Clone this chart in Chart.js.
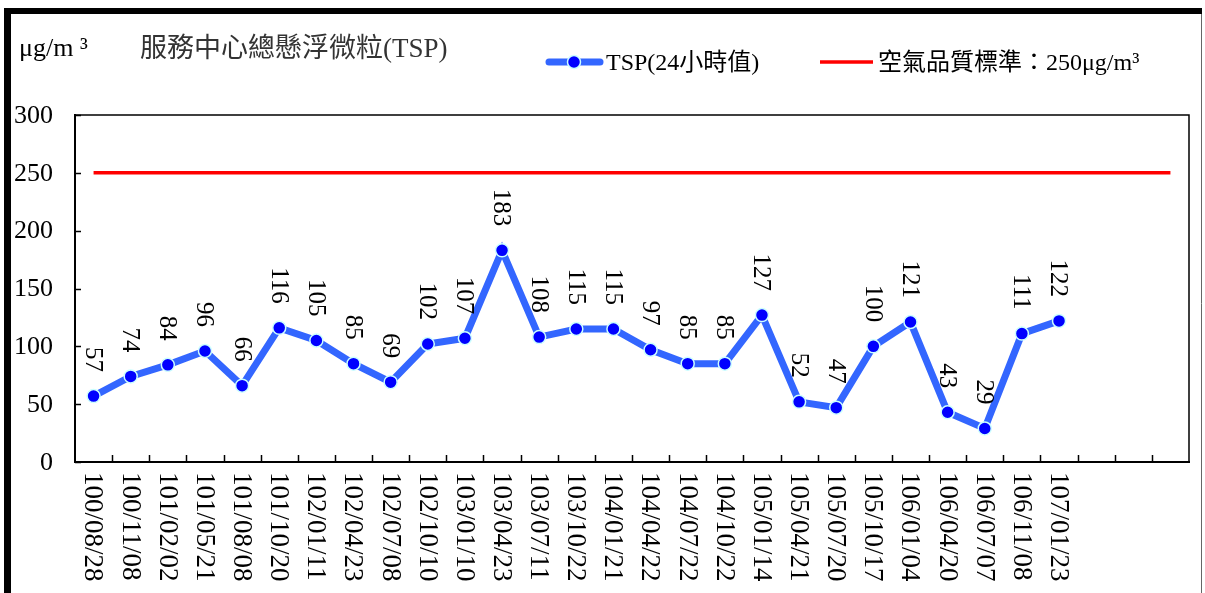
<!DOCTYPE html>
<html><head><meta charset="utf-8">
<script src="https://cdn.jsdelivr.net/npm/chart.js@4/dist/chart.umd.min.js"></script>
<style>html,body{margin:0;padding:0;background:#fff;overflow:hidden}canvas{display:block}</style>
</head><body><canvas id="c" width="1205" height="593"></canvas>
<script>
const sampleDates = ['100/08/28','100/11/08','101/02/02','101/05/21','101/08/08','101/10/20','102/01/11','102/04/23','102/07/08','102/10/10','103/01/10','103/04/23','103/07/11','103/10/22','104/01/21','104/04/22','104/07/22','104/10/22','105/01/14','105/04/21','105/07/20','105/10/17','106/01/04','106/04/20','106/07/07','106/11/08','107/01/23'];
const emptySlots = ['', '', ''];
const tspValues = [57,74,84,96,66,116,105,85,69,102,107,183,108,115,115,97,85,85,127,52,47,100,121,43,29,111,122];
const standardValue = 250;
const yTickValues = [0, 50, 100, 150, 200, 250, 300];
const seriesName = 'TSP(24小時值)';
const standardName = '空氣品質標準：250μg/m³';
const unitText = 'μg/m ³';
const titleText = '服務中心總懸浮微粒(TSP)';

const categories = sampleDates.concat(emptySlots);
const standardLine = categories.map(() => standardValue);

const SERIF = '"Liberation Serif", "Times New Roman", "Noto Sans CJK TC", serif';
const BLUE_LINE = '#3366ff';
const BLUE_DOT = '#0000ff';
const RED = '#ff0000';

const decor = {
  id: 'decor',
  afterDatasetsDraw(chart) {
    const ctx = chart.ctx;
    const meta = chart.getDatasetMeta(0);
    ctx.save();
    ctx.fillStyle = '#000';
    ctx.font = '25px ' + SERIF;
    ctx.textAlign = 'right';
    ctx.textBaseline = 'middle';
    meta.data.forEach((pt, i) => {
      ctx.save();
      ctx.translate(pt.x - 1, pt.y - 24);
      ctx.rotate(Math.PI / 2);
      ctx.fillText(String(tspValues[i]), 0, 0);
      ctx.restore();
    });
    ctx.restore();
  },
  afterDraw(chart) {
    const ctx = chart.ctx;
    const a = chart.chartArea;
    const x = chart.scales.x;
    const y = chart.scales.y;
    ctx.save();
    // plot area frame
    ctx.strokeStyle = '#000';
    ctx.lineWidth = 1.5;
    ctx.beginPath();
    ctx.moveTo(a.left, a.top); ctx.lineTo(a.right, a.top); ctx.lineTo(a.right, a.bottom);
    ctx.stroke();
    // x ticks (inward, at category boundaries)
    const step = x.getPixelForTick(1) - x.getPixelForTick(0);
    ctx.lineWidth = 1.5;
    ctx.beginPath();
    for (let i = 1; i < categories.length; i++) {
      const px = Math.round(x.getPixelForTick(i) - step / 2) + 0.5;
      ctx.moveTo(px, a.bottom); ctx.lineTo(px, a.bottom - 7);
    }
    // y ticks inward
    yTickValues.forEach(v => {
      const py = Math.round(y.getPixelForValue(v)) + 0.5;
      ctx.moveTo(a.left, py); ctx.lineTo(a.left + 6, py);
    });
    ctx.stroke();
    // y labels
    ctx.fillStyle = '#000';
    ctx.font = '26px ' + SERIF;
    ctx.textAlign = 'right';
    ctx.textBaseline = 'middle';
    yTickValues.forEach(v => {
      ctx.fillText(String(v), 53, y.getPixelForValue(v) + 1);
    });
    // x labels rotated clockwise
    ctx.font = '27px ' + SERIF;
    ctx.textAlign = 'left';
    ctx.textBaseline = 'middle';
    sampleDates.forEach((lab, i) => {
      ctx.save();
      ctx.translate(x.getPixelForTick(i) - 1, a.bottom + 10);
      ctx.rotate(Math.PI / 2);
      ctx.fillText(lab, 0, 0);
      ctx.restore();
    });
    // unit & title
    ctx.textBaseline = 'alphabetic';
    ctx.font = '26px ' + SERIF;
    ctx.fillStyle = '#000';
    ctx.fillText(unitText, 19, 56);
    ctx.font = '27px ' + SERIF;
    ctx.fillStyle = '#333';
    ctx.fillText(titleText, 140, 57);
    // legend
    ctx.lineCap = 'round';
    ctx.strokeStyle = BLUE_LINE;
    ctx.lineWidth = 7;
    ctx.beginPath(); ctx.moveTo(549, 62); ctx.lineTo(600, 62); ctx.stroke();
    ctx.beginPath(); ctx.arc(574, 62, 6.5, 0, Math.PI * 2);
    ctx.fillStyle = BLUE_DOT; ctx.fill();
    ctx.lineWidth = 1.5; ctx.strokeStyle = '#ccffff'; ctx.stroke();
    ctx.lineCap = 'butt';
    ctx.strokeStyle = RED; ctx.lineWidth = 3.5;
    ctx.beginPath(); ctx.moveTo(820, 62); ctx.lineTo(873, 62); ctx.stroke();
    ctx.fillStyle = '#000';
    ctx.font = '24px ' + SERIF;
    ctx.textBaseline = 'middle';
    ctx.fillText(seriesName, 606, 64);
    ctx.fillText(standardName, 878, 64);
    // outer frame
    ctx.fillStyle = '#000';
    ctx.fillRect(4, 8, 1198, 6);
    ctx.fillRect(4, 8, 7, 585);
    ctx.strokeStyle = '#666'; ctx.lineWidth = 1;
    ctx.beginPath(); ctx.moveTo(1201.5, 14); ctx.lineTo(1201.5, 593); ctx.stroke();
    ctx.restore();
  }
};

new Chart(document.getElementById('c'), {
  type: 'line',
  data: {
    labels: categories,
    datasets: [
      {
        label: seriesName,
        data: tspValues,
        borderColor: BLUE_LINE,
        borderWidth: 7,
        pointRadius: 6.5,
        pointBackgroundColor: BLUE_DOT,
        pointBorderColor: '#ccffff',
        pointBorderWidth: 1.5,
        tension: 0,
        order: 0
      },
      {
        label: standardName,
        data: standardLine,
        borderColor: RED,
        borderWidth: 3.5,
        pointRadius: 0,
        tension: 0,
        order: 1
      }
    ]
  },
  options: {
    responsive: false,
    animation: false,
    layout: { padding: { left: 0, top: 115, right: 16, bottom: 131 } },
    plugins: { legend: { display: false }, tooltip: { enabled: false } },
    scales: {
      x: {
        type: 'category',
        offset: true,
        grid: { display: false, drawTicks: false },
        border: { display: true, color: '#000', width: 2 },
        ticks: { display: false },
        afterFit(s) { s.height = 0; }
      },
      y: {
        min: 0, max: 300,
        afterBuildTicks(s) { s.ticks = yTickValues.map(v => ({ value: v })); },
        grid: { display: false, drawTicks: false },
        border: { display: true, color: '#000', width: 2 },
        ticks: { display: false },
        afterFit(s) { s.width = 75; }
      }
    }
  },
  plugins: [decor]
});
</script>
</body></html>
